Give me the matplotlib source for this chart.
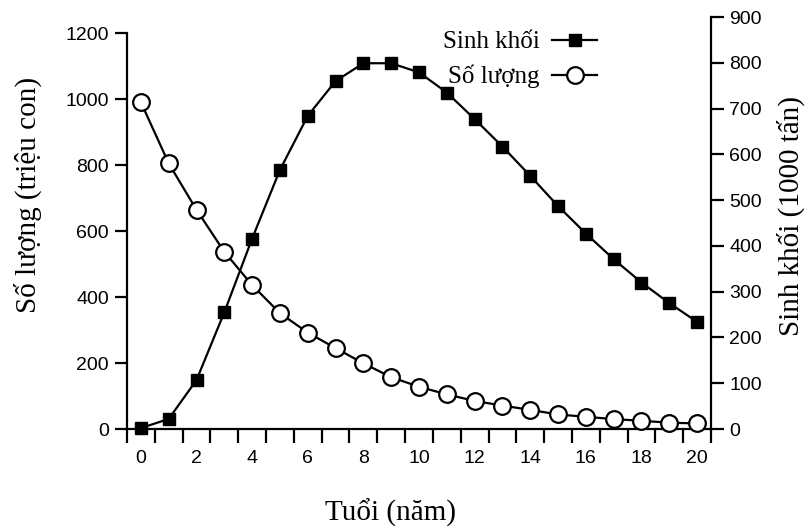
import matplotlib
matplotlib.use('Agg')
import matplotlib.pyplot as plt
import numpy as np

# ---- data ----
ages = list(range(0, 21))
so_luong = [990, 805, 664, 537, 436, 351, 292, 245, 199, 157, 128,
            105, 85, 71, 58, 44, 37, 30, 25, 19, 17]          # triệu con
sinh_khoi = [2, 22, 107, 255, 416, 566, 684, 760, 799, 799, 779,
             735, 677, 617, 553, 487, 427, 371, 320, 275, 234]  # 1000 tấn
x_ticks = [0, 2, 4, 6, 8, 10, 12, 14, 16, 18, 20]
left_ticks = [0, 200, 400, 600, 800, 1000, 1200]
right_ticks = [0, 100, 200, 300, 400, 500, 600, 700, 800, 900]

label_x = "Tuổi (năm)"
label_left = "Số lượng (triệu con)"
label_right = "Sinh khối (1000 tấn)"
name_biomass = "Sinh khối"
name_count = "Số lượng"

plt.rcParams['font.family'] = ['Liberation Sans', 'DejaVu Sans']
serif = ['Liberation Serif', 'DejaVu Serif']

W, H = 810, 528
fig = plt.figure(figsize=(W / 100, H / 100), dpi=100)
ax = fig.add_axes([127 / W, 1 - 429 / H, 584 / W, 412 / H])
ax2 = ax.twinx()

lw = 1.6
# left axis
ax.set_xlim(-0.5, 20.5)
ax.set_ylim(0, 1200 * 412 / 396)
ax.set_yticks(left_ticks)
ax.spines['top'].set_visible(False)
ax.spines['right'].set_visible(False)
ax.spines['left'].set_bounds(0, 1200)
for s in ('left', 'bottom'):
    ax.spines[s].set_linewidth(lw)
ax.tick_params(axis='y', direction='out', length=9, width=lw, labelsize=14, pad=4)
ax.set_xticks(x_ticks)
ax.set_xticks(np.arange(-0.5, 21, 1), minor=True)
ax.tick_params(axis='x', which='major', length=0, labelsize=14, pad=15)
ax.tick_params(axis='x', which='minor', direction='out', length=10, width=lw)

# right axis
ax2.set_ylim(0, 900)
ax2.set_yticks(right_ticks)
for s in ('top', 'left', 'bottom'):
    ax2.spines[s].set_visible(False)
ax2.spines['right'].set_bounds(0, 900)
ax2.spines['right'].set_linewidth(lw)
ax2.tick_params(axis='y', direction='out', length=9, width=lw, labelsize=14, pad=4)

# series
l_count, = ax.plot(ages, so_luong, '-o', color='black', lw=lw, ms=12,
                   mfc='white', mec='black', mew=1.6, clip_on=False,
                   zorder=3, label=name_count)
l_bio, = ax2.plot(ages, sinh_khoi, '-s', color='black', lw=lw, ms=8.5,
                  mfc='black', mec='black', clip_on=False, zorder=3,
                  label=name_biomass)

# labels
ax.set_xlabel(label_x, family=serif, fontsize=21)
ax.xaxis.set_label_coords(0.452, -0.17)
ax.set_ylabel(label_left, family=serif, fontsize=21)
ax.yaxis.set_label_coords(-0.145, 0.568)
ax2.set_ylabel(label_right, family=serif, fontsize=21, rotation=90)
ax2.yaxis.set_label_coords(1.113, 0.517)

leg = ax2.legend([l_bio, l_count], [name_biomass, name_count],
                 loc='upper right', bbox_to_anchor=(597 / W, 1 - 31 / H),
                 bbox_transform=fig.transFigure, frameon=False,
                 markerfirst=False, handlelength=1.8, handletextpad=0.5,
                 borderpad=0, borderaxespad=0, labelspacing=0.46,
                 prop={'family': serif, 'size': 18})

fig.savefig('out.png', dpi=100)
